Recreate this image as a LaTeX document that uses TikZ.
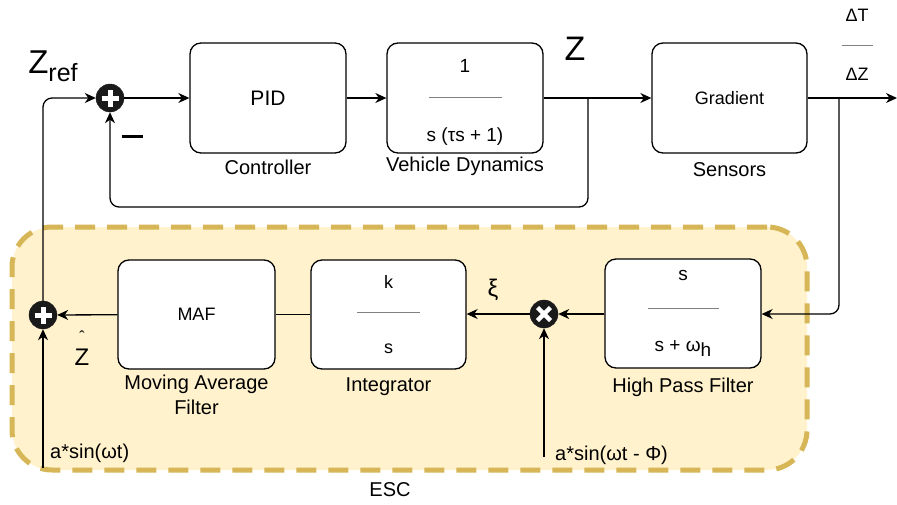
\documentclass[tikz,border=0pt]{standalone}
\usepackage{fontspec}
\setmainfont{Liberation Sans}
\setsansfont{Liberation Sans}
\usepackage{tikz}
\usetikzlibrary{arrows.meta,positioning}
\tikzstyle{every picture}+=[font=\sffamily]
\definecolor{escfill}{HTML}{FFF2CC}
\definecolor{escline}{HTML}{D6B656}
\definecolor{sumfill}{HTML}{1A1A1A}
\newcommand{\fracrule}[1]{\textcolor{gray}{\rule[6pt]{#1}{0.9pt}}}

\begin{document}
\begin{tikzpicture}
	[x=1pt, y=-1pt, font=\sffamily, inner sep=0pt,
	block/.style	= {rectangle, draw, rounded corners=11pt, line width=1.3pt, fill=white, minimum width=156pt, minimum height=110pt, align=center},
	caption/.style	= {font=\fontsize{20}{23}\selectfont, align=center},
	sumnode/.style	= {circle, draw=sumfill, fill=sumfill, minimum size=28pt,
		path picture={\draw[white, line width=5pt] (path picture bounding box.center) ++(-8.5pt,0) -- ++(17pt,0);
			\draw[white, line width=5pt] (path picture bounding box.center) ++(0,-8.5pt) -- ++(0,17pt);}},
	mulnode/.style	= {circle, draw=sumfill, fill=sumfill, minimum size=28pt,
		path picture={\draw[white, line width=4.5pt] (path picture bounding box.center) ++(-6.5pt,-6.5pt) -- ++(13pt,13pt);
			\draw[white, line width=4.5pt] (path picture bounding box.center) ++(-6.5pt,6.5pt) -- ++(13pt,-13pt);}},
	paths/.style	= {->, >={Stealth[length=11pt, width=10pt, inset=3.5pt]}, line width=1.3pt},
	escbox/.style	= {rectangle, draw=escline, fill=escfill, line width=5pt, rounded corners=40pt, dash pattern=on 20pt off 12pt, minimum width=795pt, minimum height=243pt}]
	
	\useasboundingbox (0,0) rectangle (897,504);
	
	% extremum seeking part
	\node at (409.5, 348.5)	[escbox]	(esc)	{};
	\node at (390, 490)		[caption]	(esclbl)	{ESC};
	
	% main loop
	\node at (110, 98)		[sumnode]	(sum1)	{};
	\node at (268, 98)		[block, font=\fontsize{21}{24}\selectfont]	(pid)	{PID};
	\node at (465, 98)		[block, font=\fontsize{19}{22}\selectfont]	(vd)	{\rule{0pt}{22pt}1\\[9pt]\fracrule{73pt}\\[16pt]s (τs + 1)};
	\node at (729.5, 98)	[block, minimum width=155pt, font=\fontsize{18}{21}\selectfont]	(grad)	{Gradient};
	
	\node at (268, 167)		[caption]	(pidlbl)	{Controller};
	\node at (465, 166)		[caption]	(vdlbl)		{Vehicle Dynamics};
	\node at (729.5, 170)	[caption]	(gradlbl)	{Sensors};
	
	\node at (53, 66)		[font=\fontsize{33}{36}\selectfont]	(zref)	{Z\raisebox{-8pt}{\fontsize{25}{28}\selectfont ref}};
	\node at (575, 49)		[font=\fontsize{34}{36}\selectfont]	(zout)	{Z};
	\node at (132, 136)		(minus)	{\rule{21pt}{3pt}};
	\node at (857, 45)		[font=\fontsize{18}{21}\selectfont, align=center]	(dtdz)	{ΔT\\[9pt]\fracrule{31pt}\\[8pt]ΔZ};
	
	\coordinate (tap)	at (588, 98);
	\coordinate (tap2)	at (839, 98);
	\coordinate (out)	at (897, 98);
	
	% lower loop
	\node at (43, 315)		[sumnode]	(sum2)	{};
	\node at (196.5, 314.5)	[block, minimum width=157pt, minimum height=109pt, font=\fontsize{18}{21}\selectfont]	(maf)	{MAF};
	\node at (388.5, 314.5)	[block, minimum width=155pt, minimum height=109pt, font=\fontsize{18}{21}\selectfont]	(integ)	{k\\[9pt]\fracrule{63pt}\\[14pt]s};
	\node at (544, 314)		[mulnode]	(mul)	{};
	\node at (683, 313.5)	[block, minimum height=109pt, font=\fontsize{19}{22}\selectfont]	(hpf)	{s\\[12pt]\fracrule{71pt}\\[15pt]s + ω\raisebox{-5pt}{h}};
	
	\node at (196.5, 395)	[caption, font=\fontsize{20}{25}\selectfont]	(maflbl)	{Moving Average\\Filter};
	\node at (388.5, 387)	[caption]	(integlbl)	{Integrator};
	\node at (683, 387)		[caption]	(hpflbl)	{High Pass Filter};
	
	\node at (493, 290)		[font=\fontsize{24}{26}\selectfont]	(xi)	{ξ};
	\node at (82, 348)		[font=\fontsize{24}{26}\selectfont]	(zhat)	{\shortstack{{\fontsize{16}{16}\selectfont\char"02C6}\\[3pt]Z}};
	\node at (50, 453)		[caption, anchor=west]	(dith1)	{a*sin(ωt)};
	\node at (555, 455)		[caption, anchor=west]	(dith2)	{a*sin(ωt - Φ)};
	
	\coordinate (sin1)	at (43, 468);
	\coordinate (sin2)	at (544, 457);
	
	% connections
	\draw [paths] (sum1) -- (pid);
	\draw [paths] (pid) -- (vd);
	\draw [paths] (vd) -- (grad);
	\draw [paths] (grad) -- (out);
	\draw [paths, rounded corners=9pt] (tap) -- ++(0,109) -| (sum1.south);
	\draw [paths, rounded corners=9pt] (tap2) |- (hpf.east |- mul);
	
	\draw [paths] (hpf.west |- mul) -- (mul);
	\draw [paths] (mul) -- (integ.east |- mul);
	\draw [line width=1.3pt] (integ) -- (maf);
	\draw [paths] (maf) -- (sum2);
	\draw [paths] (sin1) -- (sum2);
	\draw [paths] (sin2) -- (mul);
	\draw [paths, rounded corners=9pt] (sum2.north) |- (sum1.west);
\end{tikzpicture}
\end{document}
